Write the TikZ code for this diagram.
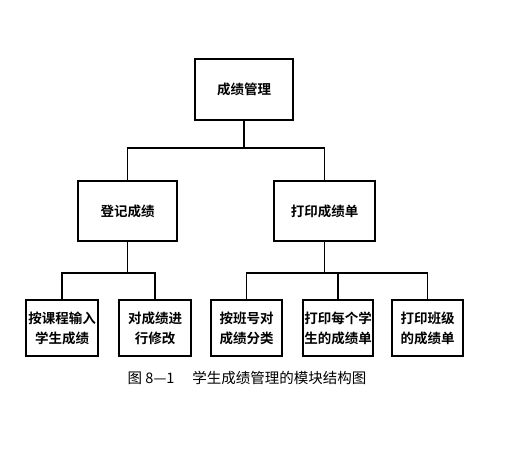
\documentclass[tikz,border=0pt]{standalone}
\usepackage{fontspec}
\newfontfamily\cjk{Noto Sans CJK SC}
\newfontfamily\cjkb{Noto Sans CJK SC Bold}
\begin{document}
\begin{tikzpicture}[x=1pt,y=-1pt,
  box/.style={draw, line width=1.6pt, inner sep=0pt, align=center,
    font=\cjkb\fontsize{13.5}{20}\selectfont},
  link/.style={line width=1.6pt}]
\useasboundingbox (0,0) rectangle (516,450);
\node[box, minimum width=98pt, minimum height=61pt] (top) at (244,89.5) {成绩管理};
\node[box, minimum width=99pt, minimum height=60pt] (L) at (127.5,211) {登记成绩};
\node[box, minimum width=101pt, minimum height=60pt] (R) at (324.5,211) {打印成绩单};
\node[box, minimum width=72pt, minimum height=56pt] (b1) at (62,328) {按课程输入\\学生成绩};
\node[box, minimum width=72pt, minimum height=56pt] (b2) at (155,328) {对成绩进\\行修改};
\node[box, minimum width=71pt, minimum height=56pt] (b3) at (246.5,328) {按班号对\\成绩分类};
\node[box, minimum width=70pt, minimum height=56pt] (b4) at (338,328) {打印每个学\\生的成绩单};
\node[box, line width=2.4pt, minimum width=71pt, minimum height=56pt] (b5) at (427.5,328) {打印班级\\的成绩单};
\coordinate (j0) at (244,148);
\coordinate (j1) at (127.5,273);
\coordinate (j2) at (324.5,273);
\draw[link] (top.south) -- (j0);
\draw[link] (j0) -| (L.north);
\draw[link] (j0) -| (R.north);
\draw[link] (L.south) -- (j1);
\draw[link] (j1) -| (b1.north);
\draw[link] (j1) -| (b2.north);
\draw[link] (R.south) -- (j2);
\draw[link] (j2) -| (b3.north);
\draw[link] (j2) -| (b4.north);
\draw[link] (j2) -| (b5.north);
\node[font=\cjk\fontsize{14.5}{17}\selectfont, inner sep=0pt] (cap) at (247,378) {图 8—1\quad\ 学生成绩管理的模块结构图};
\end{tikzpicture}
\end{document}
